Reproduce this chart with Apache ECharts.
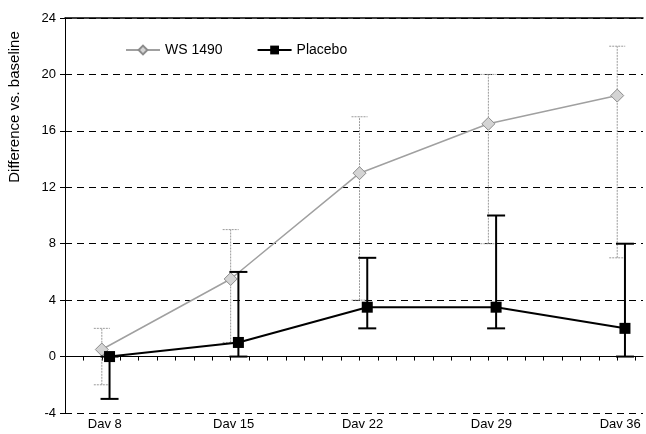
<!DOCTYPE html>
<html>
<head>
    <meta http-equiv="Content-Type" content="text/html; charset=utf-8" />
    <title>Difference vs. baseline</title>
    <style>
        html, body { margin: 0; padding: 0; background: #fff; }
        #chart { width: 646px; height: 434px; }
    </style>
</head>
<body>
    <div id="chart"></div>
    <script src="https://cdn.jsdelivr.net/npm/echarts@6/dist/echarts.min.js"></script>
<script>
    // data
    var days = [8, 15, 22, 29, 36];
    var dayLabels = ['Dav 8', 'Dav 15', 'Dav 22', 'Dav 29', 'Dav 36'];
    var yTicks = [-4, 0, 4, 8, 12, 16, 20, 24];

    var wsMean = [0.5, 5.5, 13, 16.5, 18.5];
    var wsLow = [-2, 1, 4, 8, 7];
    var wsHigh = [2, 9, 17, 20, 22];

    var plMean = [0, 1, 3.5, 3.5, 2];
    var plLow = [-3, 0, 2, 2, 0];
    var plHigh = [0, 6, 7, 10, 8];

    var plShift = 0.42;   // placebo drawn a bit right of the day

    function pts(mean, shift) {
        return days.map(function (d, i) { return [d + shift, mean[i]]; });
    }
    function bars(low, high, shift) {
        return days.map(function (d, i) { return [d + shift, low[i], high[i]]; });
    }

    // error bar: vertical line + two caps
    function errRender(color, width, capW, dash) {
        return function (params, api) {
            var x = api.value(0);
            var lo = api.coord([x, api.value(1)]);
            var hi = api.coord([x, api.value(2)]);
            var st = { stroke: color, lineWidth: width, lineDash: dash };
            return {
                type: 'group',
                children: [
                    { type: 'line', shape: { x1: lo[0], y1: lo[1], x2: hi[0], y2: hi[1] }, style: st },
                    { type: 'line', shape: { x1: hi[0] - capW / 2, y1: hi[1], x2: hi[0] + capW / 2, y2: hi[1] }, style: st },
                    { type: 'line', shape: { x1: lo[0] - capW / 2, y1: lo[1], x2: lo[0] + capW / 2, y2: lo[1] }, style: st }
                ]
            };
        };
    }

    var myChart = echarts.init(document.getElementById('chart'));
    var option = {
        animation: false,
        textStyle: { fontFamily: 'Liberation Sans, Arial, sans-serif', color: '#000' },
        grid: { left: 65, right: 3, top: 18, bottom: 21 },
        legend: {
            left: 120,
            top: 38,
            itemWidth: 34,
            itemHeight: 11,
            itemGap: 34,
            textStyle: { fontSize: 14, color: '#000' },
            data: ['WS 1490', 'Placebo']
        },
        graphic: [{
            type: 'text',
            x: 7,
            y: 107,
            rotation: Math.PI / 2,
            style: {
                text: 'Difference vs. baseline',
                font: '15px Liberation Sans, Arial, sans-serif',
                fill: '#000',
                align: 'center',
                verticalAlign: 'top'
            }
        }],
        xAxis: [{
            type: 'value',
            min: 6,
            max: 37.4,
            interval: 1,
            axisLine: { lineStyle: { color: '#000', width: 1 } },
            axisTick: { show: true, inside: false, length: 4, lineStyle: { color: '#000' } },
            splitLine: { show: false },
            axisLabel: {
                color: '#000',
                fontSize: 13,
                margin: 5,
                padding: [0, 0, 0, 6],
                showMaxLabel: false,
                formatter: function (v) {
                    var i = days.indexOf(v);
                    return i >= 0 ? dayLabels[i] : '';
                }
            }
        }, {
            type: 'value',
            position: 'top',
            min: 6,
            max: 37.4,
            axisLine: { show: true, onZero: false, lineStyle: { color: '#000', width: 1.5 } },
            axisTick: { show: false },
            axisLabel: { show: false },
            splitLine: { show: false }
        }],
        yAxis: {
            type: 'value',
            min: yTicks[0],
            max: yTicks[yTicks.length - 1],
            interval: 4,
            axisLine: { show: true, onZero: false, lineStyle: { color: '#000', width: 1 } },
            axisTick: { show: true, length: 5, lineStyle: { color: '#000' } },
            axisLabel: { color: '#000', fontSize: 13, margin: 9 },
            splitLine: { show: true, lineStyle: { color: '#000', type: [7, 5], width: 1 } }
        },
        series: [
            {
                name: 'WS 1490 err',
                type: 'custom',
                renderItem: errRender('#9a9a9a', 1, 16, [2, 1]),
                data: bars(wsLow, wsHigh, 0),
                z: 2
            },
            {
                name: 'WS 1490',
                type: 'line',
                data: pts(wsMean, 0),
                symbol: 'diamond',
                symbolSize: 13,
                lineStyle: { color: '#a0a0a0', width: 1.5 },
                itemStyle: { color: '#d4d4d4', borderColor: '#8c8c8c', borderWidth: 1 },
                z: 3
            },
            {
                name: 'Placebo err',
                type: 'custom',
                renderItem: errRender('#000', 2, 18, null),
                data: bars(plLow, plHigh, plShift),
                z: 4
            },
            {
                name: 'Placebo',
                type: 'line',
                data: pts(plMean, plShift),
                symbol: 'rect',
                symbolSize: 11,
                lineStyle: { color: '#000', width: 2 },
                itemStyle: { color: '#000' },
                z: 5
            }
        ]
    };
    myChart.setOption(option);
</script>
</body>
</html>
